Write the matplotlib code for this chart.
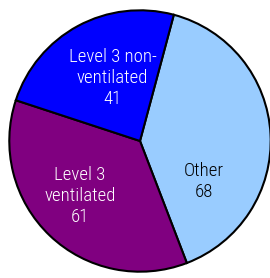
import matplotlib
matplotlib.use("Agg")
import matplotlib.pyplot as plt
from matplotlib import font_manager

labels = ["Other", "Level 3\nventilated", "Level 3 non-\nventilated"]
values = [68, 61, 41]
colors = ["#99CCFF", "#800080", "#0000FF"]
text_colors = ["#000000", "#FFFFFF", "#FFFFFF"]

names = {f.name for f in font_manager.fontManager.ttflist}
narrow = [n for n in ["Liberation Sans Narrow", "Roboto Condensed", "Arial Narrow",
                      "Open Sans Condensed", "DejaVu Sans Condensed"] if n in names]
if narrow:
    fam, fs = narrow[0], 13.5
else:
    fam, fs = "Liberation Sans", 12

fig = plt.figure(figsize=(2.70, 2.78), dpi=100)
ax = fig.add_axes([8/270, 5/278, 264/270, 264/278])
wedges, _ = ax.pie(values, colors=colors, startangle=75, counterclock=False,
                   radius=1.0, wedgeprops=dict(edgecolor="black", linewidth=1.5))
pos = [(0.49, -0.31), (-0.46, -0.42), (-0.21, 0.48)]
for lab, v, (x, y), tc in zip(labels, values, pos, text_colors):
    ax.text(x, y, f"{lab}\n{v}", ha="center", va="center", color=tc,
            fontsize=fs, family=fam, fontweight="light", linespacing=1.2)
ax.set_xlim(-1.01, 1.01)
ax.set_ylim(-1.01, 1.01)
ax.set_aspect("auto")
ax.axis("off")
fig.savefig("out.png", dpi=100)
